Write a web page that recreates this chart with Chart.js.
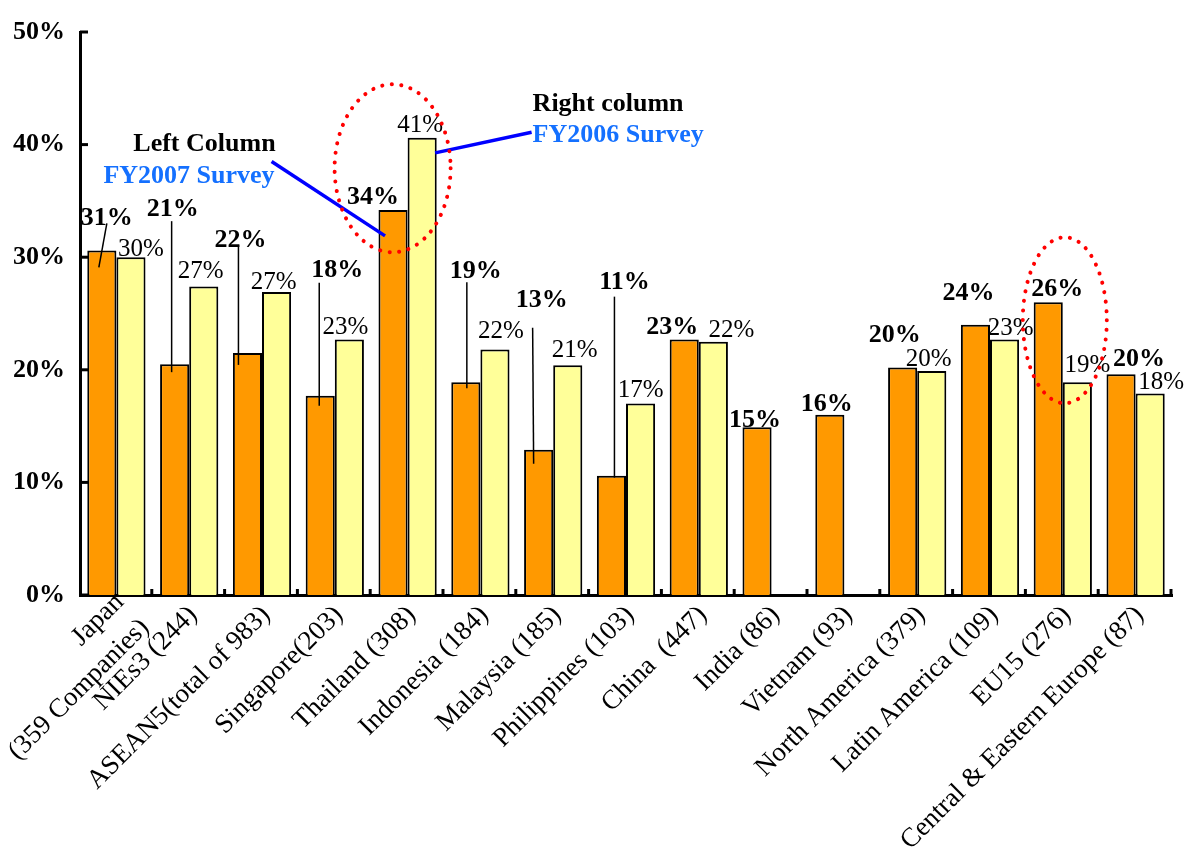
<!DOCTYPE html>
<html>
<head>
<meta charset="utf-8">
<script src="https://cdn.jsdelivr.net/npm/chart.js@4.4.1/dist/chart.umd.min.js"></script>
<style>
  body { margin: 0; background: #fff; }
  #wrap { width: 1193px; height: 859px; }
</style>
</head>
<body>
<div id="wrap"><canvas id="myChart"></canvas></div>
<script>
// Data
const categories = [
    ["Japan", "(359 Companies)"], "NIEs3 (244)", "ASEAN5(total of 983)", "Singapore(203)",
    "Thailand (308)", "Indonesia (184)", "Malaysia (185)", "Philippines (103)", "China  (447)",
    "India (86)", "Vietnam (93)", "North America (379)", "Latin America (109)", "EU15 (276)",
    "Central & Eastern Europe (87)"
];
const fy2007 = [30.6, 20.5, 21.5, 17.7, 34.2, 18.9, 12.9, 10.6, 22.7, 14.9, 16.0, 20.2, 24.0, 26.0, 19.6];
const fy2006 = [30.0, 27.4, 26.9, 22.7, 40.6, 21.8, 20.4, 17.0, 22.5, null, null, 19.9, 22.7, 18.9, 17.9];
const fy2007Labels = ["31%", "21%", "22%", "18%", "34%", "19%", "13%", "11%", "23%", "15%", "16%", "20%", "24%", "26%", "20%"];
const fy2006Labels = ["30%", "27%", "27%", "23%", "41%", "22%", "21%", "17%", "22%", null, null, "20%", "23%", "19%", "18%"];
const yTicks = [0, 10, 20, 30, 40, 50];

// label placement (offset from the top centre of each bar)
const offs2007 = [[5, -32], [-2, -155], [-7, -113], [17, -125], [-20, -13], [10, -111], [3, -149], [13, -193],
    [-12, -12], [-2, -7], [-3, -11], [-8, -32], [-7, -31], [9, -13], [18, -15]];
const offs2006 = [[10, -8], [-3, -15], [-3, -10], [-4, -12], [-2, -12], [6, -18], [7, -15], [0, -13],
    [18, -11], null, null, [-3, -11], [6, -11], [10, -17], [11, -11]];
// leader lines: [dx, dy] from label centre, [dx, dy] from bar top
const leaders = [[0, 5, -3, 17], [-1, 12, -3, 8], [-2, 5, -9, 12], [-18, 12, -1, 10], null, [-9, 11, 1, 6],
    [-9, 27, -5, 14], [-10, 14, 3, 2], null, null, null, null, null, null, null];

const SERIF = "'Liberation Serif', 'Times New Roman', serif";

// slanted category names under the axis
function drawCategoryLabels(chart) {
    const ctx = chart.ctx;
    const x = chart.scales.x;
    const base = chart.chartArea.bottom;
    const lh = 36;
    ctx.save();
    ctx.font = '27px ' + SERIF;
    ctx.fillStyle = '#000';
    ctx.textAlign = 'right';
    ctx.textBaseline = 'middle';
    categories.forEach((name, i) => {
        const lines = Array.isArray(name) ? name : [name];
        const shift = lines.length > 1 ? 12 : 0;
        ctx.save();
        ctx.translate(x.getPixelForValue(i) + 4 + shift, base + 16);
        ctx.rotate(-Math.PI / 4);
        lines.forEach((t, k) => {
            ctx.fillText(t, 0, (k - (lines.length - 1) / 2) * lh);
        });
        ctx.restore();
    });
    ctx.restore();
}

const overlay = {
    id: 'overlay',
    afterDatasetsDraw(chart) {
        const ctx = chart.ctx;
        const x = chart.scales.x, y = chart.scales.y;
        const area = chart.chartArea;
        const m07 = chart.getDatasetMeta(0), m06 = chart.getDatasetMeta(1);

        drawCategoryLabels(chart);
        ctx.save();

        // inward tick marks
        ctx.strokeStyle = '#000';
        ctx.lineWidth = 3;
        yTicks.forEach(v => {
            const py = y.getPixelForValue(v);
            ctx.beginPath(); ctx.moveTo(area.left, py); ctx.lineTo(area.left + 8, py); ctx.stroke();
        });
        const step = (area.right - area.left) / categories.length;
        for (let i = 1; i <= categories.length; i++) {
            const px = area.left + step * i - 1;
            ctx.beginPath(); ctx.moveTo(px, area.bottom); ctx.lineTo(px, area.bottom - 6); ctx.stroke();
        }

        // leader lines
        ctx.lineWidth = 1.5;
        leaders.forEach((l, i) => {
            if (!l) return;
            const bar = m07.data[i];
            const lx = bar.x + offs2007[i][0], ly = bar.y + offs2007[i][1];
            ctx.beginPath();
            ctx.moveTo(lx + l[0], ly + l[1]);
            ctx.lineTo(bar.x + l[2], bar.y + l[3]);
            ctx.stroke();
        });

        // value labels
        ctx.textAlign = 'center';
        ctx.textBaseline = 'middle';
        ctx.fillStyle = '#000';
        ctx.font = 'bold 26px ' + SERIF;
        fy2007Labels.forEach((t, i) => {
            const bar = m07.data[i];
            ctx.fillText(t, bar.x + offs2007[i][0], bar.y + offs2007[i][1]);
        });
        ctx.font = '25px ' + SERIF;
        fy2006Labels.forEach((t, i) => {
            if (!t) return;
            const bar = m06.data[i];
            ctx.fillText(t, bar.x + offs2006[i][0], bar.y + offs2006[i][1]);
        });

        // callouts for the Thailand pair
        const thai = 4;
        const cx = x.getPixelForValue(thai);
        const ob = m07.data[thai], yb = m06.data[thai];
        ctx.font = 'bold 26px ' + SERIF;
        ctx.textAlign = 'right';
        ctx.fillStyle = '#000';
        ctx.fillText('Left Column', cx - 132, y.getPixelForValue(40));
        ctx.fillStyle = '#1470ff';
        ctx.fillText('FY2007 Survey', cx - 133, y.getPixelForValue(37.2));
        ctx.textAlign = 'left';
        ctx.fillStyle = '#000';
        ctx.fillText('Right column', cx + 125, y.getPixelForValue(43.6));
        ctx.fillStyle = '#1470ff';
        ctx.fillText('FY2006 Survey', cx + 125, y.getPixelForValue(40.8));

        ctx.strokeStyle = '#0000ff';
        ctx.lineWidth = 3.5;
        ctx.beginPath();
        ctx.moveTo(cx - 136, y.getPixelForValue(38.5));
        ctx.lineTo(ob.x - 8, ob.y + 26);
        ctx.stroke();
        ctx.beginPath();
        ctx.moveTo(yb.x + 13, yb.y + 15);
        ctx.lineTo(cx + 124, y.getPixelForValue(41.1));
        ctx.stroke();

        // red dotted rings
        ctx.strokeStyle = '#ff0000';
        ctx.lineWidth = 4;
        ctx.lineCap = 'round';
        ctx.setLineDash([0.1, 9.5]);
        ctx.beginPath();
        ctx.ellipse(cx - 15, y.getPixelForValue(37.9), 58, 84, 0, 0, Math.PI * 2);
        ctx.stroke();
        ctx.beginPath();
        ctx.ellipse(x.getPixelForValue(13) + 2, y.getPixelForValue(24.4), 42, 83, 0, 0, Math.PI * 2);
        ctx.stroke();

        ctx.restore();
    }
};

const config = {
    type: 'bar',
    data: {
        labels: categories,
        datasets: [{
            label: 'FY2007 Survey',
            data: fy2007,
            backgroundColor: '#ff9900',
            borderColor: '#000',
            borderWidth: 2,
            categoryPercentage: 0.8,
            barPercentage: 1.0
        }, {
            label: 'FY2006 Survey',
            data: fy2006,
            backgroundColor: '#ffff99',
            borderColor: '#000',
            borderWidth: 2,
            categoryPercentage: 0.8,
            barPercentage: 1.0
        }]
    },
    options: {
        responsive: true,
        maintainAspectRatio: false,
        animation: false,
        layout: { padding: { top: 32, right: 21, left: 0, bottom: 0 } },
        plugins: { legend: { display: false }, tooltip: { enabled: false } },
        scales: {
            y: {
                min: 0,
                max: 50,
                afterBuildTicks: s => { s.ticks = yTicks.map(v => ({ value: v })); },
                afterFit: s => { s.width = 80; },
                grid: { display: false, drawTicks: false },
                border: { display: true, color: '#000', width: 3 },
                ticks: {
                    color: '#000',
                    padding: 15,
                    font: { family: SERIF, size: 26, weight: 'bold' },
                    callback: value => value + '%'
                }
            },
            x: {
                afterFit: s => { s.height = 264; s.paddingLeft = 0; s.paddingRight = 0; },
                grid: { display: false, drawTicks: false },
                border: { display: true, color: '#000', width: 3 },
                ticks: { display: false }
            }
        }
    },
    plugins: [overlay]
};

const ctx = document.getElementById('myChart').getContext('2d');
window.myChart = new Chart(ctx, config);
</script>
</body>
</html>
